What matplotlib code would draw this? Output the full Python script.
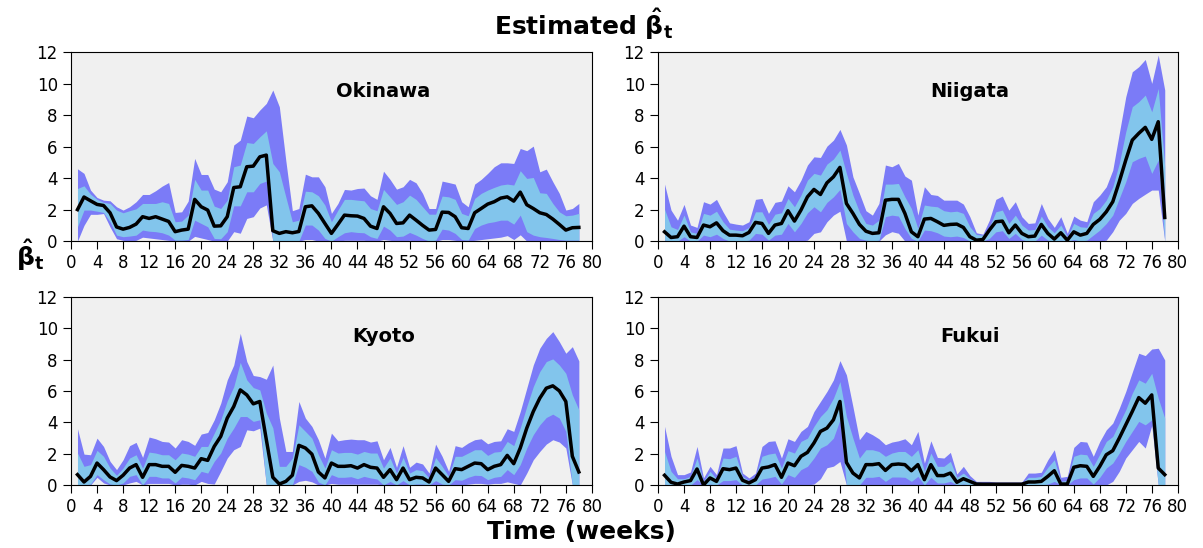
import numpy as np
import matplotlib
matplotlib.use('Agg')
import matplotlib.pyplot as plt

weeks = np.arange(1, 79)

okinawa_med = [2.0, 2.8, 2.56, 2.33, 2.26, 1.8, 0.9, 0.76, 0.87, 1.08,
               1.55, 1.44, 1.55, 1.4, 1.25, 0.6, 0.7, 0.76, 2.65, 2.18,
               1.97, 0.95, 0.97, 1.55, 3.4, 3.45, 4.72, 4.76, 5.35, 5.46,
               0.66, 0.49, 0.6, 0.53, 0.61, 2.18, 2.24, 1.76, 1.12, 0.49,
               1.06, 1.65, 1.61, 1.59, 1.44, 0.95, 0.8, 2.18, 1.76, 1.12,
               1.16, 1.65, 1.33, 1.0, 0.7, 0.74, 1.84, 1.82, 1.55, 0.85,
               0.8, 1.8, 2.07, 2.35, 2.5, 2.73, 2.81, 2.54, 3.11, 2.31,
               2.07, 1.8, 1.69, 1.4, 1.06, 0.7, 0.85, 0.87]
okinawa_hi95 = [4.59, 4.3, 3.24, 2.77, 2.6, 2.56, 2.18, 1.97, 2.18, 2.5,
                2.96, 2.96, 3.2, 3.49, 3.72, 1.82, 1.86, 2.54, 5.25, 4.23,
                4.23, 3.3, 3.13, 3.77, 6.1, 6.41, 7.94, 7.83, 8.32, 8.74,
                9.59, 8.53, 5.1, 1.93, 2.07, 4.25, 4.08, 4.08, 3.45, 1.76,
                2.39, 3.28, 3.24, 3.34, 3.37, 2.88, 2.65, 4.44, 3.92, 3.3,
                3.45, 3.92, 3.7, 3.03, 2.07, 2.07, 3.81, 3.72, 3.62, 2.5,
                2.18, 3.62, 3.92, 4.3, 4.72, 4.97, 4.97, 4.93, 5.88, 5.74,
                6.03, 4.4, 4.57, 3.77, 3.03, 1.97, 2.07, 2.39]
okinawa_hi50 = [3.34, 3.51, 2.98, 2.65, 2.46, 2.39, 1.97, 1.8, 1.93, 2.05,
                2.39, 2.39, 2.39, 2.5, 2.39, 1.23, 1.27, 1.65, 3.92, 3.24,
                3.24, 2.22, 2.07, 2.6, 4.72, 4.83, 6.26, 6.2, 6.62, 7.0,
                4.93, 4.4, 2.8, 1.23, 1.33, 3.17, 3.13, 2.88, 2.29, 1.23,
                1.97, 2.65, 2.65, 2.6, 2.56, 2.07, 1.93, 3.28, 2.81, 2.33,
                2.5, 2.92, 2.65, 2.18, 1.71, 1.71, 2.86, 2.81, 2.65, 1.76,
                1.61, 2.71, 3.03, 3.24, 3.41, 3.56, 3.62, 3.56, 4.47, 3.98,
                4.04, 3.07, 3.03, 2.39, 1.86, 1.61, 1.65, 1.76]
okinawa_lo50 = [0.91, 1.97, 1.97, 1.9, 1.82, 1.23, 0.38, 0.28, 0.32, 0.38,
                0.7, 0.63, 0.6, 0.53, 0.38, 0.06, 0.06, 0.1, 1.33, 1.12,
                0.91, 0.17, 0.15, 0.6, 2.24, 2.24, 3.13, 3.13, 3.66, 3.81,
                0, 0, 0, 0, 0, 1.02, 1.02, 0.7, 0.17, 0,
                0.28, 0.53, 0.6, 0.55, 0.53, 0.28, 0.17, 0.95, 0.7, 0.28,
                0.32, 0.55, 0.38, 0.17, 0, 0.06, 0.76, 0.7, 0.49, 0.1,
                0.06, 0.8, 1.02, 1.16, 1.23, 1.33, 1.33, 1.08, 1.65, 0.6,
                0.38, 0.28, 0.23, 0.17, 0.1, 0.06, 0.06, 0.06]
okinawa_lo95 = [0, 1.0, 1.7, 1.7, 1.75, 0.9, 0.15, 0.05, 0, 0.05,
                0.25, 0.2, 0.15, 0.1, 0.05, 0, 0, 0, 0.3, 0.2,
                0.1, 0, 0, 0, 0.6, 0.5, 1.44, 1.55, 2.1, 2.3,
                0, 0, 0, 0, 0, 0.1, 0.1, 0, 0, 0,
                0, 0.05, 0.05, 0.05, 0.05, 0, 0, 0.1, 0.05, 0,
                0, 0.05, 0, 0, 0, 0, 0.1, 0.1, 0.05, 0,
                0, 0.05, 0.1, 0.15, 0.2, 0.25, 0.35, 0.1, 0.4, 0,
                0, 0, 0, 0, 0, 0, 0, 0]

niigata_med = [0.59, 0.23, 0.28, 0.95, 0.28, 0.23, 1.02, 0.91, 1.16, 0.66,
               0.38, 0.38, 0.34, 0.55, 1.19, 1.12, 0.49, 1.02, 1.12, 1.93,
               1.27, 1.97, 2.81, 3.28, 2.96, 3.7, 4.08, 4.68, 2.39, 1.76,
               1.06, 0.63, 0.49, 0.53, 2.6, 2.65, 2.65, 1.76, 0.59, 0.28,
               1.4, 1.44, 1.23, 1.0, 1.06, 1.08, 0.87, 0.28, 0.06, 0.1,
               0.7, 1.23, 1.27, 0.53, 1.02, 0.49, 0.28, 0.32, 1.06, 0.49,
               0.13, 0.53, 0.06, 0.59, 0.38, 0.49, 1.06, 1.38, 1.86, 2.5,
               3.77, 5.14, 6.41, 6.84, 7.22, 6.46, 7.58, 1.5]
niigata_hi95 = [3.62, 1.97, 1.33, 2.33, 1.02, 0.87, 2.5, 2.35, 2.65, 1.86,
                1.16, 1.08, 1.02, 1.23, 2.65, 2.71, 1.76, 2.46, 2.54, 3.51,
                3.13, 3.87, 4.83, 5.35, 5.31, 6.03, 6.41, 7.09, 6.1, 4.08,
                3.03, 1.93, 1.65, 2.39, 4.83, 4.72, 4.93, 4.13, 3.87, 1.65,
                3.45, 2.96, 2.9, 2.6, 2.6, 2.6, 2.35, 1.55, 0.53, 0.44,
                1.33, 2.65, 2.86, 1.97, 2.5, 1.55, 1.12, 1.16, 2.39, 1.44,
                0.87, 1.55, 0.49, 1.59, 1.33, 1.23, 2.5, 2.92, 3.45, 4.51,
                6.84, 9.16, 10.75, 11.07, 11.53, 10.01, 11.81, 9.59]
niigata_hi50 = [2.03, 0.91, 0.74, 1.65, 0.59, 0.49, 1.76, 1.65, 1.9, 1.23,
                0.76, 0.7, 0.66, 0.87, 1.86, 1.86, 1.06, 1.71, 1.8, 2.71,
                2.18, 2.92, 3.87, 4.3, 4.19, 4.89, 5.21, 5.78, 4.3, 2.92,
                1.86, 1.12, 1.02, 1.33, 3.62, 3.62, 3.66, 2.81, 2.07, 0.8,
                2.29, 2.22, 2.18, 1.93, 1.86, 1.9, 1.76, 0.91, 0.42, 0.38,
                0.91, 1.86, 1.97, 1.12, 1.65, 1.02, 0.7, 0.74, 1.59, 0.91,
                0.53, 1.02, 0.28, 1.12, 0.91, 0.87, 1.76, 2.07, 2.6, 3.45,
                4.93, 6.94, 8.53, 8.85, 9.27, 8.21, 9.69, 4.72]
niigata_lo50 = [0.06, 0, 0, 0.28, 0, 0, 0.38, 0.28, 0.44, 0.17,
                0, 0, 0, 0.06, 0.49, 0.44, 0.06, 0.38, 0.44, 1.12,
                0.59, 1.12, 1.8, 2.18, 1.86, 2.46, 2.81, 3.28, 1.12, 0.59,
                0.17, 0.06, 0, 0.06, 1.55, 1.65, 1.59, 0.8, 0.17, 0,
                0.7, 0.66, 0.53, 0.32, 0.28, 0.32, 0.23, 0, 0, 0,
                0.17, 0.59, 0.66, 0.17, 0.49, 0.1, 0, 0, 0.38, 0.06,
                0, 0.06, 0, 0.1, 0, 0.06, 0.38, 0.7, 1.12, 1.65,
                2.71, 3.77, 5.04, 5.25, 5.4, 4.3, 5.14, 0]
niigata_lo95 = [0, 0, 0, 0, 0, 0, 0, 0, 0, 0,
                0, 0, 0, 0, 0, 0, 0, 0, 0, 0,
                0, 0, 0.06, 0.49, 0.59, 1.23, 1.65, 1.9, 0, 0,
                0, 0, 0, 0, 0.4, 0.6, 0.5, 0, 0, 0,
                0, 0, 0, 0, 0, 0, 0, 0, 0, 0,
                0, 0, 0, 0, 0, 0, 0, 0, 0, 0,
                0, 0, 0, 0, 0, 0, 0, 0, 0.06, 0.6,
                1.33, 1.76, 2.39, 2.71, 2.98, 3.24, 3.24, 0]

kyoto_med = [0.66, 0.19, 0.55, 1.4, 0.98, 0.51, 0.28, 0.62, 1.08, 1.3,
             0.49, 1.3, 1.3, 1.19, 1.19, 0.81, 1.25, 1.19, 1.08, 1.68,
             1.57, 2.46, 3.1, 4.27, 5.01, 6.07, 5.75, 5.18, 5.33, 2.9,
             0.49, 0.06, 0.23, 0.62, 2.53, 2.36, 1.97, 0.83, 0.45, 1.4,
             1.19, 1.19, 1.23, 1.08, 1.3, 1.13, 1.08, 0.49, 0.98, 0.34,
             1.08, 0.34, 0.49, 0.45, 0.19, 1.08, 0.66, 0.23, 1.04, 0.98,
             1.19, 1.4, 1.36, 0.98, 1.19, 1.3, 1.89, 1.36, 2.36, 3.63,
             4.69, 5.54, 6.18, 6.33, 6.01, 5.33, 1.83, 0.83]
kyoto_hi95 = [3.59, 1.97, 1.93, 2.99, 2.46, 1.51, 0.98, 1.61, 2.51, 2.72,
              1.76, 3.06, 2.95, 2.78, 2.74, 2.36, 2.89, 2.78, 2.53, 3.25,
              3.35, 4.16, 5.22, 6.71, 7.66, 9.68, 7.88, 6.99, 6.92, 6.75,
              7.66, 4.27, 2.14, 2.14, 5.33, 4.27, 3.74, 2.89, 1.72, 3.31,
              2.82, 2.89, 2.93, 2.89, 2.89, 2.74, 2.82, 1.61, 2.4, 1.13,
              2.51, 1.13, 1.46, 1.34, 0.76, 2.61, 1.83, 0.87, 2.51, 2.4,
              2.68, 2.89, 2.95, 2.63, 2.78, 2.82, 3.59, 3.42, 4.69, 6.18,
              7.66, 8.73, 9.36, 9.79, 9.15, 8.41, 8.83, 7.92]
kyoto_hi50 = [2.04, 1.19, 1.3, 2.21, 1.83, 1.08, 0.62, 1.08, 1.72, 1.93,
              1.08, 2.1, 2.04, 1.93, 1.93, 1.61, 2.04, 1.97, 1.83, 2.46,
              2.46, 3.31, 4.16, 5.37, 6.28, 7.83, 6.71, 6.22, 6.07, 4.59,
              3.65, 1.19, 1.19, 1.72, 3.84, 3.42, 2.99, 1.93, 1.08, 2.25,
              2.04, 2.08, 2.08, 1.97, 2.14, 2.04, 2.04, 1.08, 1.72, 0.76,
              1.76, 0.76, 0.98, 0.91, 0.45, 1.76, 1.19, 0.55, 1.83, 1.83,
              2.04, 2.25, 2.25, 1.89, 2.1, 2.14, 2.78, 2.51, 3.65, 5.01,
              6.28, 7.24, 7.88, 8.05, 7.66, 7.13, 5.75, 4.8]
kyoto_lo50 = [0, 0, 0.06, 0.66, 0.34, 0.06, 0, 0.13, 0.55, 0.66,
              0, 0.55, 0.55, 0.45, 0.45, 0.13, 0.51, 0.45, 0.34, 0.87,
              0.76, 1.51, 2.04, 2.99, 3.63, 4.37, 4.37, 4.06, 4.16, 0,
              0, 0, 0, 0, 1.3, 1.13, 0.87, 0.19, 0, 0.66,
              0.49, 0.49, 0.53, 0.4, 0.55, 0.45, 0.38, 0, 0.23, 0,
              0.28, 0, 0.06, 0.06, 0, 0.28, 0.06, 0, 0.34, 0.3,
              0.49, 0.62, 0.6, 0.34, 0.49, 0.55, 0.98, 0.66, 1.3, 2.36,
              3.21, 3.84, 4.31, 4.52, 4.27, 3.42, 0, 0]
kyoto_lo95 = [0, 0, 0, 0.49, 0.13, 0, 0, 0, 0.13, 0.23,
              0, 0.1, 0.1, 0.1, 0.1, 0, 0.05, 0.05, 0, 0.23,
              0.1, 0.06, 0.87, 1.72, 2.25, 2.46, 3.52, 3.46, 3.63, 0,
              0, 0, 0, 0, 0.23, 0.3, 0.2, 0, 0, 0.1,
              0.05, 0.05, 0.05, 0.05, 0.05, 0.05, 0.05, 0, 0, 0,
              0, 0, 0, 0, 0, 0, 0, 0, 0, 0,
              0.05, 0.1, 0.1, 0.05, 0.1, 0.1, 0.2, 0.1, 0, 0.76,
              1.61, 2.14, 2.61, 2.89, 2.74, 2.36, 0, 0]

fukui_med = [0.62, 0.17, 0.06, 0.19, 0.28, 1.02, 0, 0.45, 0.23, 1.04,
             0.98, 1.08, 0.3, 0.13, 0.34, 1.08, 1.15, 1.3, 0.49, 1.4,
             1.23, 1.83, 2.08, 2.68, 3.42, 3.63, 4.16, 5.33, 1.44, 0.76,
             0.45, 1.3, 1.3, 1.36, 0.93, 1.3, 1.34, 1.3, 0.91, 1.3,
             0.34, 1.3, 0.6, 0.6, 0.76, 0.17, 0.4, 0.23, 0.06, 0.05,
             0.05, 0.05, 0.05, 0.05, 0.05, 0.05, 0.19, 0.19, 0.23, 0.55,
             0.91, 0.06, 0.06, 1.13, 1.23, 1.19, 0.55, 1.19, 1.93, 2.19,
             2.99, 3.84, 4.69, 5.58, 5.22, 5.75, 1.08, 0.66]
fukui_hi95 = [3.74, 1.83, 0.66, 0.66, 0.83, 2.46, 0.45, 1.19, 0.66, 2.36,
              2.36, 2.51, 0.76, 0.45, 0.76, 2.46, 2.78, 2.82, 1.72, 2.95,
              2.78, 3.42, 3.74, 4.69, 5.33, 5.97, 6.71, 7.94, 7.03, 5.0,
              2.89, 3.42, 3.21, 2.95, 2.57, 2.74, 2.82, 2.95, 2.57, 3.42,
              1.4, 2.82, 1.76, 1.72, 2.08, 0.7, 1.19, 0.6, 0.23, 0.23,
              0.23, 0.19, 0.19, 0.19, 0.19, 0.19, 0.76, 0.76, 0.81, 1.61,
              2.25, 0.49, 0.55, 2.4, 2.78, 2.74, 1.83, 2.78, 3.52, 3.95,
              4.9, 5.97, 7.2, 8.41, 8.26, 8.68, 8.73, 7.98]
fukui_hi50 = [2.14, 0.87, 0.4, 0.4, 0.55, 1.72, 0.23, 0.87, 0.38, 1.72,
              1.68, 1.83, 0.55, 0.28, 0.55, 1.83, 1.97, 2.04, 1.08, 2.19,
              2.04, 2.78, 2.99, 3.74, 4.37, 4.8, 5.54, 6.6, 4.37, 2.99,
              1.72, 2.25, 2.25, 2.14, 1.83, 2.04, 2.14, 2.14, 1.83, 2.25,
              0.87, 2.04, 1.19, 1.19, 1.51, 0.49, 0.76, 0.4, 0.19, 0.13,
              0.13, 0.13, 0.13, 0.13, 0.13, 0.13, 0.49, 0.49, 0.55, 1.13,
              1.61, 0.23, 0.3, 1.83, 1.97, 1.93, 1.19, 1.97, 2.78, 3.1,
              3.95, 4.8, 5.86, 6.71, 6.5, 7.13, 5.54, 4.27]
fukui_lo50 = [0.05, 0, 0, 0, 0, 0.34, 0, 0.06, 0, 0.28,
              0.28, 0.34, 0, 0, 0, 0.38, 0.45, 0.55, 0.06, 0.66,
              0.49, 0.98, 1.19, 1.72, 2.36, 2.57, 2.99, 4.16, 0, 0,
              0, 0.49, 0.49, 0.55, 0.23, 0.51, 0.51, 0.49, 0.23, 0.55,
              0, 0.49, 0.13, 0.13, 0.23, 0, 0.06, 0, 0, 0,
              0, 0, 0, 0, 0, 0, 0, 0, 0, 0.06,
              0.23, 0, 0, 0.34, 0.45, 0.45, 0.06, 0.49, 1.08, 1.4,
              2.04, 2.78, 3.42, 4.06, 3.84, 4.16, 0, 0]
fukui_lo95 = [0, 0, 0, 0, 0, 0, 0, 0, 0, 0,
              0, 0, 0, 0, 0, 0, 0, 0, 0, 0,
              0, 0, 0, 0.06, 0.4, 1.1, 1.2, 1.5, 0, 0,
              0, 0, 0, 0, 0, 0, 0, 0, 0, 0,
              0, 0, 0, 0, 0, 0, 0, 0, 0, 0,
              0, 0, 0, 0, 0, 0, 0, 0, 0, 0,
              0, 0, 0, 0, 0, 0, 0, 0, 0, 0.23,
              0.87, 1.72, 2.25, 2.78, 2.36, 3.8, 0, 0]

regions = ['Okinawa', 'Niigata', 'Kyoto', 'Fukui']
series = {
    'Okinawa': (okinawa_med, okinawa_lo95, okinawa_hi95, okinawa_lo50, okinawa_hi50),
    'Niigata': (niigata_med, niigata_lo95, niigata_hi95, niigata_lo50, niigata_hi50),
    'Kyoto': (kyoto_med, kyoto_lo95, kyoto_hi95, kyoto_lo50, kyoto_hi50),
    'Fukui': (fukui_med, fukui_lo95, fukui_hi95, fukui_lo50, fukui_hi50),
}

fig = plt.figure(figsize=(12.03, 5.48), dpi=100)
positions = [
    [0.059, 0.560, 0.433, 0.345],
    [0.547, 0.560, 0.432, 0.345],
    [0.059, 0.115, 0.433, 0.343],
    [0.547, 0.115, 0.432, 0.343],
]

for name, pos in zip(regions, positions):
    med, lo95, hi95, lo50, hi50 = series[name]
    ax = fig.add_axes(pos)
    ax.set_facecolor('#f0f0f0')
    ax.fill_between(weeks, lo95, hi95, color='#7b7bf7', linewidth=0)
    ax.fill_between(weeks, lo50, hi50, color='#82c5ec', linewidth=0)
    ax.plot(weeks, med, color='black', linewidth=2.5)
    ax.set_xlim(0, 80)
    ax.set_ylim(0, 12)
    ax.set_xticks(np.arange(0, 81, 4))
    ax.set_yticks(np.arange(0, 13, 2))
    ax.tick_params(labelsize=12, length=6)
    ax.text(0.6, 0.79, name, transform=ax.transAxes, ha='center', va='center',
            fontsize=14, fontweight='bold')

fig.text(0.485, 0.955, r'Estimated $\mathbf{\hat{\beta}_t}$',
         ha='center', va='center', fontsize=18, fontweight='bold')
fig.text(0.025, 0.535, r'$\mathbf{\hat{\beta}_t}$',
         ha='center', va='center', fontsize=18, fontweight='bold')
fig.text(0.483, 0.03, 'Time (weeks)', ha='center', va='center',
         fontsize=18, fontweight='bold')

fig.savefig('out.png', dpi=100)
plt.close(fig)
